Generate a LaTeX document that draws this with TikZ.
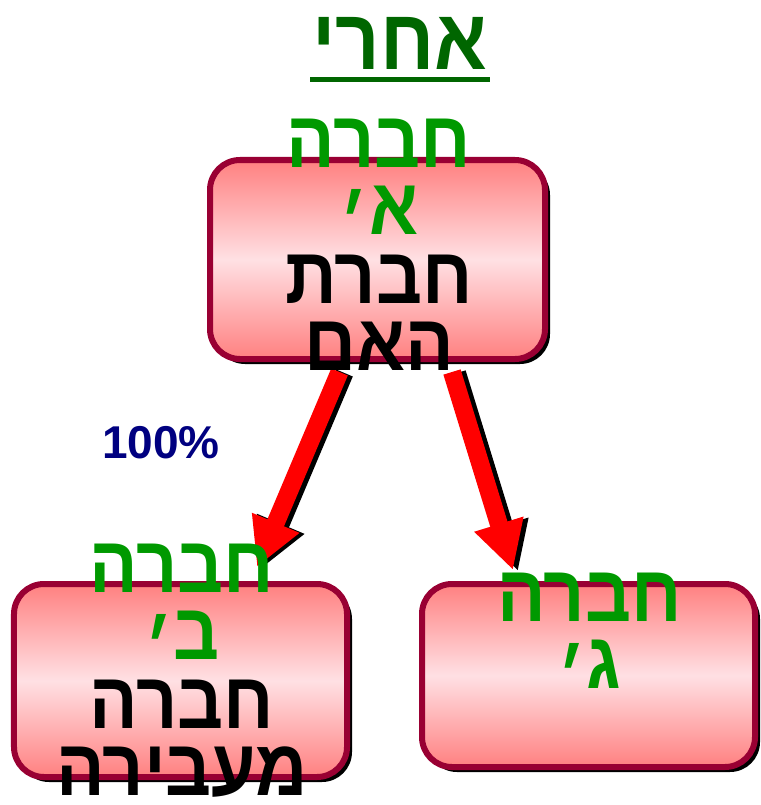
\documentclass[tikz,border=0pt]{standalone}
\usepackage{fontspec}
\setmainfont{Liberation Sans}
\newfontfamily\hebfont[Script=Hebrew,FakeStretch=0.9]{Liberation Sans}
\TeXXeTstate=1
\usetikzlibrary{arrows.meta,shadows}

\definecolor{boxred}{HTML}{FF8080}
\definecolor{boxpink}{HTML}{FFE0E4}
\definecolor{boxrim}{HTML}{990033}
\definecolor{namegreen}{HTML}{009900}
\definecolor{titlegreen}{HTML}{006600}
\definecolor{shareblue}{HTML}{000080}

\newcommand{\hebg}[1]{\textcolor{namegreen}{\beginR#1\endR}}
\newcommand{\hebk}[1]{\textcolor{black}{\beginR#1\endR}}
\newcommand{\geresh}{\raisebox{-20bp}{׳}}

\begin{document}
\begin{tikzpicture}[x=1bp,y=-1bp,
	company/.style={draw=boxrim, line width=6bp, rounded corners=30bp,
		top color=boxred, bottom color=boxred, middle color=boxpink,
		drop shadow={shadow xshift=5bp, shadow yshift=-5bp, fill=black, opacity=1}, inner sep=0pt},
	names/.style={align=center, inner sep=0pt, anchor=base,
		font=\hebfont\bfseries\fontsize{80bp}{66.5bp}\selectfont},
	holding/.style={draw=red, line width=18bp, -{Triangle[length=48bp,width=48bp]},
		preaction={draw=black, line width=18bp, transform canvas={shift={(5bp,-1bp)}}}}]
	\useasboundingbox (0,0) rectangle (761,805);

	%TITLE
	\node[inner sep=0pt, anchor=base, text=titlegreen, font=\hebfont\bfseries\fontsize{86bp}{86bp}\selectfont] (title) at (400,70) {\beginR אחרי\endR};
	\draw[titlegreen, line width=5bp] ([xshift=-2bp,yshift=-9bp]title.base west) -- ([xshift=2bp,yshift=-9bp]title.base east);

	%BOXES
	\node[company, minimum width=335bp, minimum height=199bp] (parent) at (377.5,259.5) {};
	\node[company, minimum width=333bp, minimum height=193bp] (sub) at (180.5,680.5) {};
	\node[company, minimum width=333bp, minimum height=183bp] (third) at (588.5,675.5) {};

	%ARROWS
	\draw[holding] ([xshift=-38bp,yshift=-10bp]parent.south) -- ([xshift=76.5bp,yshift=14bp]sub.north);
	\draw[holding] ([xshift=74.5bp,yshift=-10bp]parent.south) -- ([xshift=-75.5bp,yshift=11bp]third.north);
	\node[inner sep=0pt, text=shareblue, font=\bfseries\fontsize{46bp}{46bp}\selectfont] (share) at (161,443) {100\%};

	%NAMES (base = last line)
	\node[names] (parent-name) at ([xshift=1.5bp,yshift=-213bp]parent.north) {\hebg{חברה}\\\hebg{א\geresh}\\\hebk{חברת}\\\hebk{האם}};
	\node[names] (sub-name) at ([xshift=1.5bp,yshift=-214bp]sub.north) {\hebg{חברה}\\\hebg{ב\geresh}\\\hebk{חברה}\\\hebk{מעבירה}};
	\node[names] (third-name) at ([xshift=1bp,yshift=-107bp]third.north) {\hebg{חברה}\\\hebg{ג\geresh}};
\end{tikzpicture}
\end{document}
